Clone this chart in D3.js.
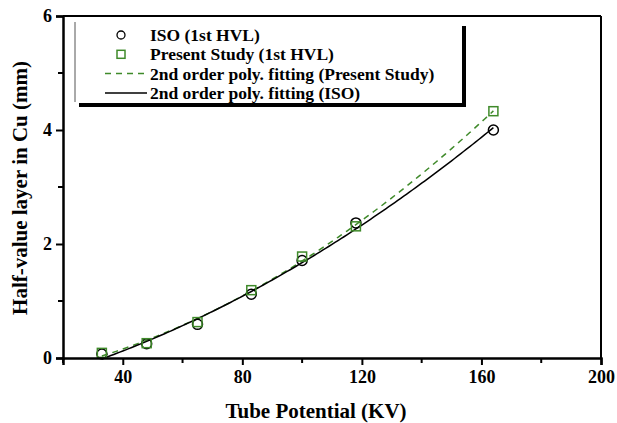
<!DOCTYPE html>
<html>
<head>
<meta charset="utf-8">
<script src="https://cdn.jsdelivr.net/npm/d3@7"></script>
<style>
body { margin: 0; background: #fff; }
text { font-family: 'Liberation Serif', 'Times New Roman', serif; font-weight: bold; }
</style>
</head>
<body>
<svg width="617" height="423"></svg>
<script>
// tube potential (kV) for each measurement
var potentials = [33, 48, 65, 83, 100, 118, 164];
// first HVL in mm Cu
var isoHvl = [0.07, 0.25, 0.59, 1.12, 1.71, 2.37, 4.0];
var studyHvl = [0.09, 0.26, 0.63, 1.19, 1.78, 2.31, 4.33];

var xTicks = [40, 80, 120, 160, 200];
var xMinor = [20, 60, 100, 140, 180];
var yTicks = [0, 2, 4, 6];
var yMinor = [1, 3, 5];

var green = '#3f8a2a';

var svg = d3.select('svg');
var padding = {t: 16, r: 16, b: 65, l: 63};

var x = d3.scaleLinear().domain([20, 200]).range([padding.l, 601]);
var y = d3.scaleLinear().domain([0, 6]).range([358, padding.t]);

// least squares 2nd order polynomial
function polyFit(xs, ys) {
    var s = [0, 0, 0, 0, 0], t = [0, 0, 0];
    xs.forEach(function(xv, i) {
        for (var k = 0; k < 5; k++) s[k] += Math.pow(xv, k);
        for (var k = 0; k < 3; k++) t[k] += ys[i] * Math.pow(xv, k);
    });
    var m = [[s[0], s[1], s[2], t[0]], [s[1], s[2], s[3], t[1]], [s[2], s[3], s[4], t[2]]];
    for (var c = 0; c < 3; c++) {
        for (var r = c + 1; r < 3; r++) {
            var f = m[r][c] / m[c][c];
            for (var k = c; k < 4; k++) m[r][k] -= f * m[c][k];
        }
    }
    var a = [0, 0, 0];
    for (var r = 2; r >= 0; r--) {
        var v = m[r][3];
        for (var k = r + 1; k < 3; k++) v -= m[r][k] * a[k];
        a[r] = v / m[r][r];
    }
    return function(xv) { return a[0] + a[1] * xv + a[2] * xv * xv; };
}

var isoFit = polyFit(potentials, isoHvl);
var studyFit = polyFit(potentials, studyHvl);
var fitX = d3.range(potentials[0], potentials[potentials.length - 1] + 0.5, 1);

var line = d3.line().x(function(d) { return x(d[0]); }).y(function(d) { return y(d[1]); });

svg.append('path')
    .datum(fitX.map(function(v) { return [v, studyFit(v)]; }))
    .attr('d', line)
    .attr('fill', 'none')
    .attr('stroke', green)
    .attr('stroke-width', 1.5)
    .attr('stroke-dasharray', '6,5');

svg.append('path')
    .datum(fitX.map(function(v) { return [v, isoFit(v)]; }))
    .attr('d', line)
    .attr('fill', 'none')
    .attr('stroke', '#000')
    .attr('stroke-width', 1.5);

// ISO markers
svg.selectAll('.iso')
    .data(potentials)
    .enter().append('circle')
    .attr('class', 'iso')
    .attr('cx', function(d) { return x(d); })
    .attr('cy', function(d, i) { return y(isoHvl[i]); })
    .attr('r', 5)
    .attr('fill', 'none')
    .attr('stroke', '#000')
    .attr('stroke-width', 1.5);

// present study markers
svg.selectAll('.study')
    .data(potentials)
    .enter().append('rect')
    .attr('class', 'study')
    .attr('x', function(d) { return x(d) - 4.5; })
    .attr('y', function(d, i) { return y(studyHvl[i]) - 4.5; })
    .attr('width', 9)
    .attr('height', 9)
    .attr('fill', 'none')
    .attr('stroke', green)
    .attr('stroke-width', 1.5);

// frame
svg.append('line').attr('x1', x(20)).attr('x2', x(200)).attr('y1', y(6)).attr('y2', y(6))
    .attr('stroke', '#000').attr('stroke-width', 2);
svg.append('line').attr('x1', x(200)).attr('x2', x(200)).attr('y1', y(6)).attr('y2', y(0))
    .attr('stroke', '#000').attr('stroke-width', 2);

var xAxis = svg.append('g')
    .attr('transform', 'translate(0,' + y(0) + ')')
    .call(d3.axisBottom(x).tickValues(xTicks).tickSize(7).tickPadding(5).tickFormat(d3.format('d')));
xAxis.append('g').selectAll('line')
    .data(xMinor).enter().append('line')
    .attr('x1', function(d) { return x(d); }).attr('x2', function(d) { return x(d); })
    .attr('y1', 0).attr('y2', 5).attr('stroke', '#000').attr('stroke-width', 2);

var yAxis = svg.append('g')
    .attr('transform', 'translate(' + x(20) + ',0)')
    .call(d3.axisLeft(y).tickValues(yTicks).tickSize(7).tickPadding(4).tickFormat(d3.format('d')));
yAxis.append('g').selectAll('line')
    .data(yMinor).enter().append('line')
    .attr('y1', function(d) { return y(d); }).attr('y2', function(d) { return y(d); })
    .attr('x1', 0).attr('x2', -5).attr('stroke', '#000').attr('stroke-width', 2);

svg.selectAll('.domain').attr('stroke-width', 2.5);
svg.selectAll('.tick line').attr('stroke-width', 2);
svg.selectAll('.tick text')
    .style('font-size', '18px')
    .style('font-family', "'Liberation Serif', serif")
    .style('font-weight', 'bold')
    .attr('fill', '#000');

svg.append('text')
    .attr('x', 316)
    .attr('y', 418)
    .attr('text-anchor', 'middle')
    .style('font-size', '21px')
    .text('Tube Potential (KV)');

svg.append('text')
    .attr('transform', 'translate(27,' + 188 + ') rotate(-90)')
    .attr('text-anchor', 'middle')
    .style('font-size', '21px')
    .text('Half-value layer in Cu (mm)');

// legend
var legend = svg.append('g');
legend.append('rect')
    .attr('x', 79).attr('y', 26).attr('width', 387).attr('height', 81)
    .attr('fill', '#000');
legend.append('rect')
    .attr('x', 75).attr('y', 22).attr('width', 387).attr('height', 81)
    .attr('fill', '#fff');
legend.append('line')
    .attr('x1', 75).attr('x2', 75).attr('y1', 22).attr('y2', 102)
    .attr('stroke', '#555').attr('stroke-width', 1);

var legendRows = [
    {label: 'ISO (1st HVL)', type: 'circle'},
    {label: 'Present Study (1st HVL)', type: 'square'},
    {label: '2nd order poly. fitting (Present Study)', type: 'dash'},
    {label: '2nd order poly. fitting (ISO)', type: 'solid'}
];
legendRows.forEach(function(row, i) {
    var cy = 35 + i * 19.3;
    if (row.type === 'circle') {
        legend.append('circle').attr('cx', 121).attr('cy', cy).attr('r', 4)
            .attr('fill', 'none').attr('stroke', '#000').attr('stroke-width', 1.3);
    } else if (row.type === 'square') {
        legend.append('rect').attr('x', 117).attr('y', cy - 4).attr('width', 8).attr('height', 8)
            .attr('fill', 'none').attr('stroke', green).attr('stroke-width', 1.5);
    } else {
        legend.append('line').attr('x1', 105).attr('x2', 147).attr('y1', cy).attr('y2', cy)
            .attr('stroke', row.type === 'dash' ? green : '#000')
            .attr('stroke-width', 1.5)
            .attr('stroke-dasharray', row.type === 'dash' ? '6,5' : null);
    }
    legend.append('text')
        .attr('x', 150)
        .attr('y', cy + 6)
        .style('font-size', '17.5px')
        .text(row.label);
});
</script>
</body>
</html>
